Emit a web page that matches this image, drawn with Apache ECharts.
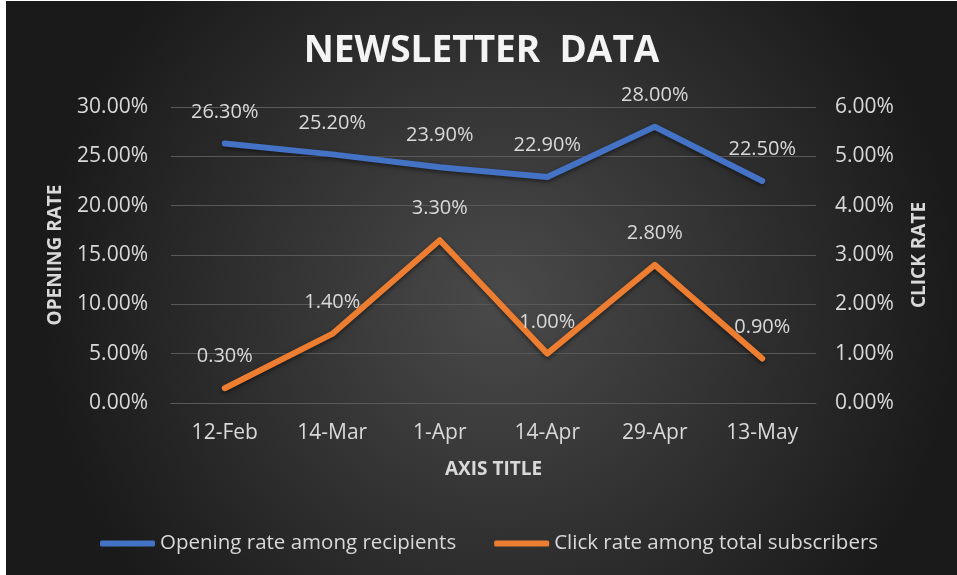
<!DOCTYPE html>
<html>
<head>
<meta charset="utf-8">
<script src="https://cdn.jsdelivr.net/npm/echarts@6/dist/echarts.min.js"></script>
<style>
  html, body { margin: 0; padding: 0; background: #ffffff; }
  #chart { position: absolute; left: 6px; top: 1px; width: 951px; height: 574px; }
</style>
</head>
<body>
<div id="chart"></div>
<script>
  // newsletter data
  let dates = ['12-Feb', '14-Mar', '1-Apr', '14-Apr', '29-Apr', '13-May']
  let openRate = [26.3, 25.2, 23.9, 22.9, 28.0, 22.5]
  let clickRate = [0.3, 1.4, 3.3, 1.0, 2.8, 0.9]
  let openTicks = [0, 30, 5]   // min, max, interval
  let clickTicks = [0, 6, 1]

  let font = 'Open Sans'
  let textColor = '#d9d9d9'
  let pct = v => v.toFixed(2) + '%'

  let chart = echarts.init(document.getElementById('chart'))

  let lineLabel = {
    show: true,
    position: 'top',
    distance: 21,
    color: textColor,
    fontFamily: font,
    fontSize: 20,
    formatter: p => pct(p.value)
  }

  let options = {
    backgroundColor: {
      type: 'radial', x: 0.52, y: 0.52, r: 0.8,
      colorStops: [
        {offset: 0, color: '#4a4a4a'},
        {offset: 1, color: '#1a1a1a'}
      ]
    },
    color: ['#4472C4', '#ED7D31'],
    title: {
      text: 'NEWSLETTER  DATA',
      left: 'center',
      top: 27,
      textStyle: {
        color: '#f4f4f4',
        fontFamily: font,
        fontWeight: 'bold',
        fontSize: 37
      }
    },
    grid: {
      left: 165,
      right: 141,
      top: 106,
      bottom: 172
    },
    legend: {
      data: ['Opening rate among recipients', 'Click rate among total subscribers'],
      left: 89,
      top: 527,
      icon: 'roundRect',
      itemWidth: 55,
      itemHeight: 6,
      itemGap: 38,
      textStyle: {
        color: textColor,
        fontFamily: font,
        fontSize: 20.5
      }
    },
    xAxis: {
      type: 'category',
      boundaryGap: true,
      data: dates,
      name: 'AXIS TITLE',
      nameLocation: 'middle',
      nameGap: 57,
      nameTextStyle: {
        color: textColor,
        fontFamily: font,
        fontWeight: 'bold',
        fontSize: 19
      },
      axisTick: {show: false},
      axisLine: {show: true, lineStyle: {color: '#595959'}},
      axisLabel: {
        color: textColor,
        fontFamily: font,
        fontSize: 21,
        margin: 20
      }
    },
    yAxis: [
      {
        type: 'value',
        min: openTicks[0],
        max: openTicks[1],
        interval: openTicks[2],
        name: 'OPENING RATE',
        nameLocation: 'middle',
        nameRotate: 90,
        nameGap: 106,
        nameTextStyle: {
          color: textColor,
          fontFamily: font,
          fontWeight: 'bold',
          fontSize: 19
        },
        axisLabel: {
          color: textColor,
          fontFamily: font,
          fontSize: 21,
          margin: 23,
          formatter: pct
        },
        splitLine: {show: true, lineStyle: {color: '#595959', width: 1}}
      },
      {
        type: 'value',
        min: clickTicks[0],
        max: clickTicks[1],
        interval: clickTicks[2],
        name: 'CLICK RATE',
        nameLocation: 'middle',
        nameRotate: 90,
        nameGap: 94,
        nameTextStyle: {
          color: textColor,
          fontFamily: font,
          fontWeight: 'bold',
          fontSize: 19
        },
        axisLabel: {
          color: textColor,
          fontFamily: font,
          fontSize: 21,
          margin: 19,
          formatter: pct
        },
        splitLine: {show: false}
      }
    ],
    series: [
      {
        name: 'Opening rate among recipients',
        type: 'line',
        yAxisIndex: 0,
        data: openRate,
        symbol: 'circle',
        symbolSize: 1,
        lineStyle: {width: 6, cap: 'round', join: 'round', shadowColor: 'rgba(0,0,0,0.5)', shadowBlur: 4, shadowOffsetY: 2},
        label: lineLabel
      },
      {
        name: 'Click rate among total subscribers',
        type: 'line',
        yAxisIndex: 1,
        data: clickRate,
        symbol: 'circle',
        symbolSize: 1,
        lineStyle: {width: 6, cap: 'round', join: 'round', shadowColor: 'rgba(0,0,0,0.5)', shadowBlur: 4, shadowOffsetY: 2},
        label: lineLabel
      }
    ]
  }

  chart.setOption(options, true)
</script>
</body>
</html>
